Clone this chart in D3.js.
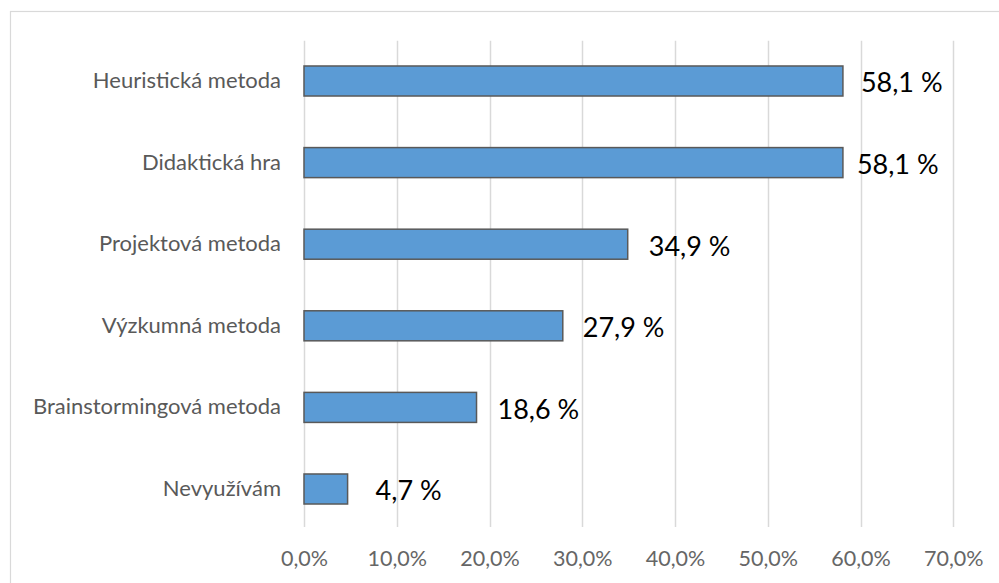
<!DOCTYPE html>
<html>
<head>
<meta charset="utf-8">
<script src="https://cdn.jsdelivr.net/npm/d3@7"></script>
<style>
  html, body { margin: 0; padding: 0; background: #fff; }
  svg { display: block; }
</style>
</head>
<body>
<svg id="chart" width="999" height="583"></svg>
<script>
// Teaching methods used (share of respondents)
const categories = [
  "Heuristická metoda",
  "Didaktická hra",
  "Projektová metoda",
  "Výzkumná metoda",
  "Brainstormingová metoda",
  "Nevyužívám"
];
const values = [58.1, 58.1, 34.9, 27.9, 18.6, 4.7];
const tickValues = [0, 10, 20, 30, 40, 50, 60, 70];
const valueLabels = ["58,1 %", "58,1 %", "34,9 %", "27,9 %", "18,6 %", "4,7 %"];
// small hand-placed horizontal nudges of the value labels
const labelNudge = [-2, -6, 1, 0, 1, 8];

const svg = d3.select("#chart");
const W = 999, H = 583;

// chart frame (open on the right/bottom edges of the canvas)
svg.append("rect")
  .attr("x", 10.5).attr("y", 11.5)
  .attr("width", W + 10).attr("height", H + 10)
  .attr("fill", "#fff")
  .attr("stroke", "#D9D9D9")
  .attr("stroke-width", 1.2);

const plot = { left: 304, right: 953.3, top: 40.2, bottom: 529.8 };

const x = d3.scaleLinear().domain([0, 70]).range([plot.left, plot.right]);
const y = d3.scaleBand()
  .domain(categories)
  .range([plot.top, plot.bottom])
  .paddingInner(0.632)
  .paddingOuter(0.316);

// vertical gridlines
svg.append("g")
  .selectAll("line")
  .data(tickValues)
  .join("line")
  .attr("x1", d => Math.round(x(d)) + 0.5)
  .attr("x2", d => Math.round(x(d)) + 0.5)
  .attr("y1", 40.7)
  .attr("y2", 527)
  .attr("stroke", "#D9D9D9")
  .attr("stroke-width", 1.5);

// x axis tick labels
const fmt = v => v.toFixed(1).replace(".", ",") + "%";
const xAxis = d3.axisBottom(x)
  .tickValues(tickValues)
  .tickFormat(fmt)
  .tickSize(0)
  .tickPadding(0);
const gx = svg.append("g")
  .attr("transform", `translate(0, 566)`)
  .call(xAxis);
gx.select(".domain").remove();
gx.selectAll("text")
  .attr("dy", 0)
  .attr("font-family", "Lato, 'Open Sans', sans-serif")
  .attr("font-size", 21.5)
  .attr("fill", "#666666");

// y axis category labels
const yAxis = d3.axisLeft(y).tickSize(0).tickPadding(0);
const gy = svg.append("g")
  .attr("transform", `translate(281, 0)`)
  .call(yAxis);
gy.select(".domain").remove();
gy.selectAll("text")
  .attr("font-family", "Lato, 'Open Sans', sans-serif")
  .attr("font-size", 22)
  .attr("fill", "#595959");

// bars
svg.append("g")
  .selectAll("rect")
  .data(values)
  .join("rect")
  .attr("x", x(0))
  .attr("y", (d, i) => y(categories[i]))
  .attr("width", d => x(d) - x(0))
  .attr("height", y.bandwidth())
  .attr("fill", "#5B9BD5")
  .attr("stroke", "#595959")
  .attr("stroke-width", 1.5);

// value labels
svg.append("g")
  .selectAll("text")
  .data(values)
  .join("text")
  .attr("x", (d, i) => x(d) + 20 + labelNudge[i])
  .attr("y", (d, i) => y(categories[i]) + y.bandwidth() / 2 + 2)
  .attr("dy", "0.35em")
  .attr("font-family", "Lato, 'Open Sans', sans-serif")
  .attr("font-size", 27)
  .attr("fill", "#000")
  .text((d, i) => valueLabels[i]);
</script>
</body>
</html>
